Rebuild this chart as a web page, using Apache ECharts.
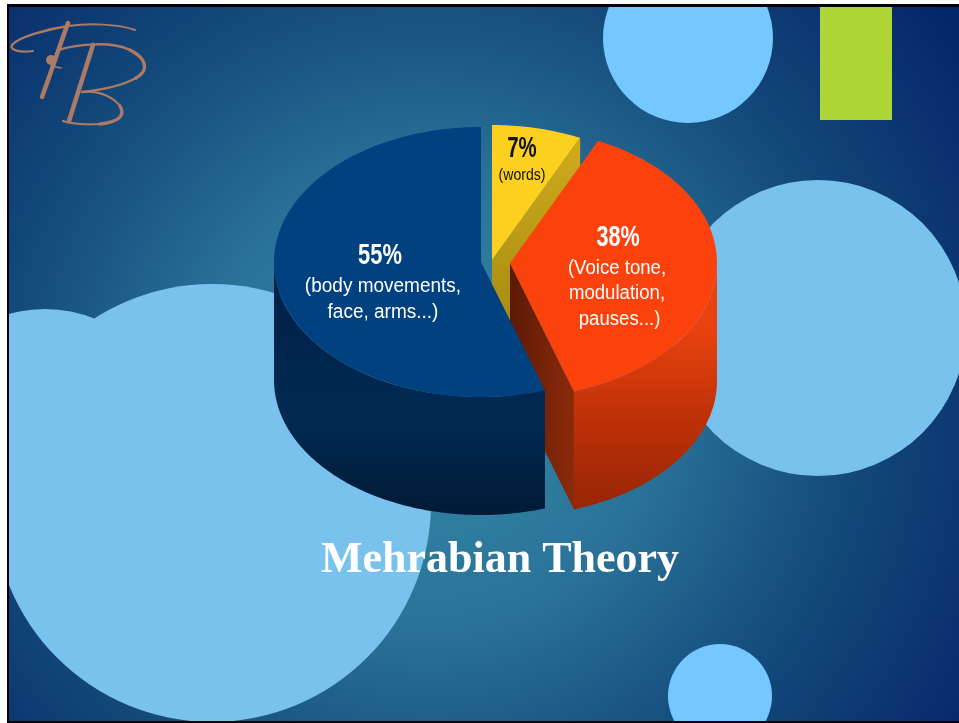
<!DOCTYPE html>
<html>
<head>
<meta charset="utf-8">
<style>
	html,body{margin:0;padding:0;background:#fff;}
	#main{width:959px;height:723px;}
</style>
<script src="https://cdn.jsdelivr.net/npm/echarts@6/dist/echarts.min.js"></script>
</head>
<body>
<div id="main"></div>
<script>
	// slice values, drawn clockwise from 12 o'clock
	var sliceNames=['words','voice','body']
	var sliceValues=[7,38,55]
	var percentLabels=['7%','38%','55%']
	var detailLabels=[
		['(words)'],
		['(Voice tone,','modulation,',' pauses...)'],
		['(body movements,','face, arms...)']
	]
	var chartTitle='Mehrabian Theory'

	// look of the pie
	var pieRx=207,pieRy=135,pieDepth=118
	var sliceCenters=[[492,260],[510,263],[481,262]]
	var topColors=['#fbd01f','#fc420c','#01417f']
	var labelColors=['#111111','#ffffff','#ffffff']
	var percentPos=[[522,149],[618,238],[380,256]]
	var detailPos=[[522,176],[617,268],[383,286]]
	var percentScale=[0.68,0.72,0.73]
	var detailScale=[0.88,0.93,0.95]
	var detailSize=[16,20,20]
	var lineGap=[0,25.5,26]

	var LG=echarts.graphic.LinearGradient
	var wallFill=[
		'#c1a21a',
		new LG(0,330,0,510,[{offset:0,color:'#e8420e'},{offset:0.45,color:'#c23208'},{offset:1,color:'#962505'}],true),
		new LG(0,300,0,516,[{offset:0,color:'#00214a'},{offset:0.55,color:'#012a52'},{offset:1,color:'#001a36'}],true)
	]
	var cutFill=[
		new LG(0,140,0,330,[{offset:0,color:'#cfab1c'},{offset:1,color:'#a68a12'}],true),
		new LG(510,0,574,0,[{offset:0,color:'#5c1a06'},{offset:1,color:'#8c2a0a'}],true),
		'#001f42'
	]

	// angle is clockwise from the top, in degrees
	function rimPoint(c,deg,drop){
		var a=deg*Math.PI/180
		return [c[0]+pieRx*Math.sin(a),c[1]-pieRy*Math.cos(a)+drop]
	}
	function arcPoints(c,from,to,drop){
		var pts=[],n=Math.max(2,Math.ceil(Math.abs(to-from)))
		for(var i=0;i<=n;i++){
			pts.push(rimPoint(c,from+(to-from)*i/n,drop))
		}
		return pts
	}
	function labelEl(text,x,y,sx,font,fill){
		return {type:'text',x:x,y:y,scaleX:sx,style:{text:text,x:0,y:0,font:font,fill:fill,textAlign:'center',textVerticalAlign:'middle'}}
	}
	function renderSlice(params,api){
		var i=params.dataIndex
		var total=sliceValues.reduce(function(s,v){return s+v},0)
		var before=sliceValues.slice(0,i).reduce(function(s,v){return s+v},0)
		var start=before/total*360
		var end=(before+api.value(0))/total*360
		var c=sliceCenters[i]
		var kids=[]

		// cut face along the closing edge
		var e0=rimPoint(c,end,0)
		kids.push({type:'polygon',shape:{points:[c,e0,[e0[0],e0[1]+pieDepth],[c[0],c[1]+pieDepth]]},style:{fill:cutFill[i]}})

		// outer wall, only the front half shows
		var wFrom=Math.max(start,90),wTo=Math.min(end,270)
		if(wTo>wFrom){
			var topArc=arcPoints(c,wFrom,wTo,0)
			var lowArc=arcPoints(c,wTo,wFrom,pieDepth)
			kids.push({type:'polygon',shape:{points:topArc.concat(lowArc)},style:{fill:wallFill[i]}})
		}

		// top face
		kids.push({type:'polygon',shape:{points:[c].concat(arcPoints(c,start,end,0))},style:{fill:topColors[i]}})

		// labels
		kids.push(labelEl(percentLabels[i],percentPos[i][0],percentPos[i][1],percentScale[i],'bold 30px "Liberation Sans"',labelColors[i]))
		detailLabels[i].forEach(function(line,k){
			kids.push(labelEl(line,detailPos[i][0],detailPos[i][1]+k*lineGap[i],detailScale[i],detailSize[i]+'px "Liberation Sans"',labelColors[i]))
		})
		return {type:'group',children:kids}
	}

	// F and B of the logo, each line is x1,y1,cp1x,cp1y,cp2x,cp2y,x2,y2,width
	var logoCurves=[
		[33,51,20,53,9,50,12,45,2.2],
		[12,45,18,37,48,29,68,26,2.4],
		[68,26,90,23,118,24,135,30,2],
		[68,23,60,45,50,75,42,97,4.5],
		[51,66,54,67,58,67,61,68,1.5],
		[58,50,78,44,112,41,130,50,2.4],
		[130,50,146,58,150,70,136,78,3.4],
		[136,78,120,87,100,90,82,92,2.4],
		[93,45,85,70,77,96,69,121,4.5],
		[82,92,100,90,114,98,120,106,2.2],
		[120,106,126,116,118,122,100,124,3.4],
		[100,124,88,125,72,124,63,121,2.2]
	]
	var logoShapes=logoCurves.map(function(p){
		return {type:'bezierCurve',z:3,shape:{x1:p[0],y1:p[1],cpx1:p[2],cpy1:p[3],cpx2:p[4],cpy2:p[5],x2:p[6],y2:p[7]},style:{fill:null,stroke:'#ad7a64',lineWidth:p[8],lineCap:'round'}}
	})
	logoShapes.push({type:'circle',z:3,shape:{cx:51,cy:60,r:5},style:{fill:'#ad7a64'}})

	var bgShapes=[
		{type:'rect',z:0,shape:{x:0,y:0,width:959,height:723},style:{fill:new echarts.graphic.RadialGradient(430,400,640,[{offset:0,color:'#3389a8'},{offset:0.35,color:'#2a7398'},{offset:0.7,color:'#114578'},{offset:1,color:'#06266a'}],true)}},
		{type:'circle',z:1,shape:{cx:212,cy:503,r:219},style:{fill:'#7ac2ee'}},
		{type:'circle',z:1,shape:{cx:45,cy:441,r:132},style:{fill:'#7ac2ee'}},
		{type:'circle',z:1,shape:{cx:818,cy:328,r:148},style:{fill:'#7ac2ee'}},
		{type:'circle',z:1,shape:{cx:688,cy:38,r:85},style:{fill:'#75c8ff'}},
		{type:'circle',z:1,shape:{cx:720,cy:696,r:52},style:{fill:'#75c8ff'}},
		{type:'rect',z:1,shape:{x:820,y:7,width:72,height:113},style:{fill:'#aed636'}},
		// slide frame and the white margin round it
		{type:'rect',z:4,shape:{x:0,y:0,width:7,height:723},style:{fill:'#ffffff'}},
		{type:'rect',z:4,shape:{x:0,y:0,width:959,height:4},style:{fill:'#ffffff'}},
		{type:'rect',z:4,shape:{x:7,y:4,width:2,height:719},style:{fill:'#000000'}},
		{type:'rect',z:4,shape:{x:7,y:4,width:952,height:3},style:{fill:'#000000'}},
		{type:'rect',z:4,shape:{x:7,y:721,width:952,height:2},style:{fill:'#000000'}}
	]

	var chartInstance=echarts.init(document.getElementById('main'),null,{renderer:'canvas'})
	chartInstance.setOption({
		animation:false,
		title:{
			text:chartTitle,
			left:495,
			top:534,
			textAlign:'center',
			z:10,
			textStyle:{color:'#ffffff',fontFamily:'Liberation Serif',fontWeight:'bold',fontSize:44}
		},
		graphic:{elements:bgShapes.concat(logoShapes)},
		series:[{
			type:'custom',
			coordinateSystem:'none',
			z:5,
			silent:true,
			renderItem:renderSlice,
			data:sliceValues.map(function(v,i){return {name:sliceNames[i],value:[v]}})
		}]
	})
</script>
</body>
</html>
